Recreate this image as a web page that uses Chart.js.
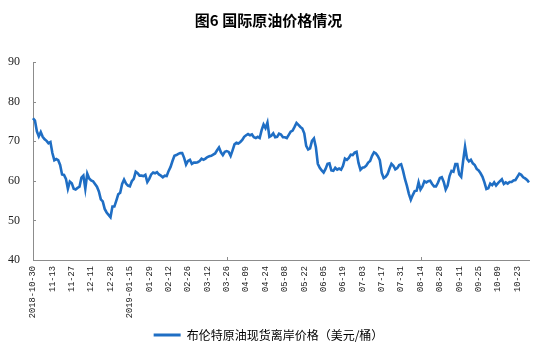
<!DOCTYPE html>
<html>
<head>
<meta charset="utf-8">
<script src="https://cdn.jsdelivr.net/npm/chart.js@4/dist/chart.umd.min.js"></script>
<style>
html,body{margin:0;padding:0;background:#fff;}
#wrap{width:548px;height:356px;position:relative;}
</style>
</head>
<body>
<div id="wrap"><canvas id="c"></canvas></div>
<script>
const titleText = '图6 国际原油价格情况';
const seriesName = '布伦特原油现货离岸价格（美元/桶）';
// one tick label every 10 trading days
const tickLabels = ['2018-10-30','11-13','11-27','12-11','12-28','2019-01-15','01-29','02-12','02-26','03-12','03-26','04-09','04-24','05-08','05-22','06-05','06-19','07-03','07-17','07-31','08-14','08-28','09-11','09-25','10-09','10-23'];
const tickStep = 10;
// daily Brent spot price
const prices = [
75.8,75.2,72.5,71.2,72.3,71.1,70.5,70.1,69.5,69.8,
67.0,65.2,65.5,65.2,64.0,61.6,61.5,60.5,58.0,59.8,
59.4,58.0,57.8,58.2,58.5,60.8,61.3,58.0,61.8,60.6,
60.1,59.9,59.2,58.5,57.3,55.3,54.8,52.9,52.0,51.4,
50.8,53.5,53.5,55.0,56.6,57.0,59.2,60.3,59.3,58.8,
58.6,59.9,60.5,62.3,61.9,61.3,61.3,61.2,61.5,59.7,
60.5,61.6,62.1,61.9,62.2,61.6,61.3,60.9,61.3,61.2,
62.5,63.5,65.0,66.3,66.5,66.8,67.0,67.0,65.8,64.1,
65.0,65.3,64.3,64.6,64.6,64.7,65.0,65.6,65.3,65.6,
66.0,66.2,66.3,66.6,66.9,67.7,68.4,67.2,66.5,67.3,
67.5,67.3,66.3,67.7,69.2,69.6,69.4,69.8,70.3,71.1,
71.5,71.8,71.5,71.7,71.0,70.8,71.1,70.8,72.8,74.2,
73.3,74.7,71.1,71.4,72.0,71.0,71.1,71.9,71.7,71.0,
71.0,70.8,71.6,72.4,72.7,73.6,74.6,74.1,73.6,73.2,
72.0,68.8,67.9,68.2,70.1,70.7,68.5,64.3,63.3,62.6,
62.1,63.0,64.3,64.4,62.6,62.5,63.3,62.8,63.1,62.8,
63.8,65.6,65.3,65.8,66.6,66.5,67.1,67.3,64.5,62.8,
63.3,63.4,63.8,64.6,65.0,66.3,67.2,66.9,66.2,65.2,
62.0,60.7,61.0,61.7,63.1,64.3,63.8,62.9,63.2,64.0,
64.2,62.5,60.4,58.7,56.7,55.2,56.4,57.4,57.5,59.6,
57.8,58.6,59.9,59.6,59.9,60.0,59.2,58.6,58.6,59.5,
60.7,60.9,59.7,57.8,58.8,61.2,62.5,62.3,64.2,64.2,
61.6,61.0,65.0,68.6,65.6,64.9,65.3,64.4,64.0,63.0,
62.6,61.9,61.0,59.6,57.9,58.1,59.3,58.9,59.6,58.8,
59.4,59.9,60.4,59.2,59.6,59.3,59.7,59.7,60.1,60.2,
61.0,61.8,61.5,60.9,60.6,60.2,59.6
];
const yMin = 40, yMax = 90, yStep = 10;

const labels = prices.map((v, i) => (i % tickStep === 0 && tickLabels[i / tickStep] !== undefined) ? tickLabels[i / tickStep] : '');
const lineColor = '#1f6ec4';
const axisColor = '#8c8c8c';

const innerTicks = {
  id: 'innerTicks',
  afterDraw(chart) {
    const ctx = chart.ctx, xs = chart.scales.x, ys = chart.scales.y;
    ctx.save();
    ctx.strokeStyle = axisColor;
    ctx.lineWidth = 1;
    ctx.beginPath();
    xs.ticks.forEach((t, i) => {
      if (i % tickStep !== 0) return;
      const x = Math.round(xs.getPixelForTick(i)) + 0.5;
      ctx.moveTo(x, ys.bottom);
      ctx.lineTo(x, ys.bottom - 3);
    });
    ys.ticks.forEach((t, i) => {
      const y = Math.round(ys.getPixelForTick(i)) + 0.5;
      ctx.moveTo(xs.left, y);
      ctx.lineTo(xs.left + 3, y);
    });
    ctx.stroke();
    ctx.restore();
  }
};

new Chart(document.getElementById('c'), {
  type: 'line',
  data: {
    labels: labels,
    datasets: [{
      label: seriesName,
      data: prices,
      borderColor: lineColor,
      backgroundColor: lineColor,
      borderWidth: 2.6,
      pointRadius: 0,
      tension: 0,
      fill: false
    }]
  },
  options: {
    responsive: true,
    maintainAspectRatio: false,
    devicePixelRatio: 1,
    animation: false,
    layout: { padding: { left: 8, right: 19, top: 0, bottom: 5 } },
    plugins: {
      title: {
        display: true,
        text: titleText,
        color: '#000',
        font: { family: "'Noto Sans CJK SC'", size: 15, weight: 'bold' },
        padding: { top: 11, bottom: 33 }
      },
      legend: {
        position: 'bottom',
        labels: {
          boxWidth: 27,
          boxHeight: 3,
          padding: 8,
          color: '#222',
          font: { family: "'Noto Sans CJK SC'", size: 12 },
          generateLabels: (chart) => [{
            text: seriesName, fillStyle: lineColor, strokeStyle: lineColor,
            lineWidth: 0, hidden: false, datasetIndex: 0
          }]
        }
      },
      tooltip: { enabled: false }
    },
    scales: {
      x: {
        type: 'category',
        offset: false,
        grid: { display: false, drawTicks: false },
        border: { display: true, color: axisColor, width: 1 },
        afterFit: (s) => { s.height = 61; },
        ticks: {
          autoSkip: false,
          maxRotation: 90,
          minRotation: 90,
          padding: 6,
          color: '#222',
          font: { family: "'Liberation Mono'", size: 8.7 },
          callback: function(val, i) { return (i % tickStep === 0) ? this.getLabelForValue(val) : null; }
        }
      },
      y: {
        min: yMin, max: yMax,
        grid: { display: false, drawTicks: false },
        border: { display: true, color: axisColor, width: 1 },
        afterFit: (s) => { s.width = 25; },
        ticks: {
          stepSize: yStep,
          padding: 13,
          color: '#222',
          font: { family: "'Liberation Serif'", size: 12 }
        }
      }
    }
  },
  plugins: [innerTicks]
});
</script>
</body>
</html>
